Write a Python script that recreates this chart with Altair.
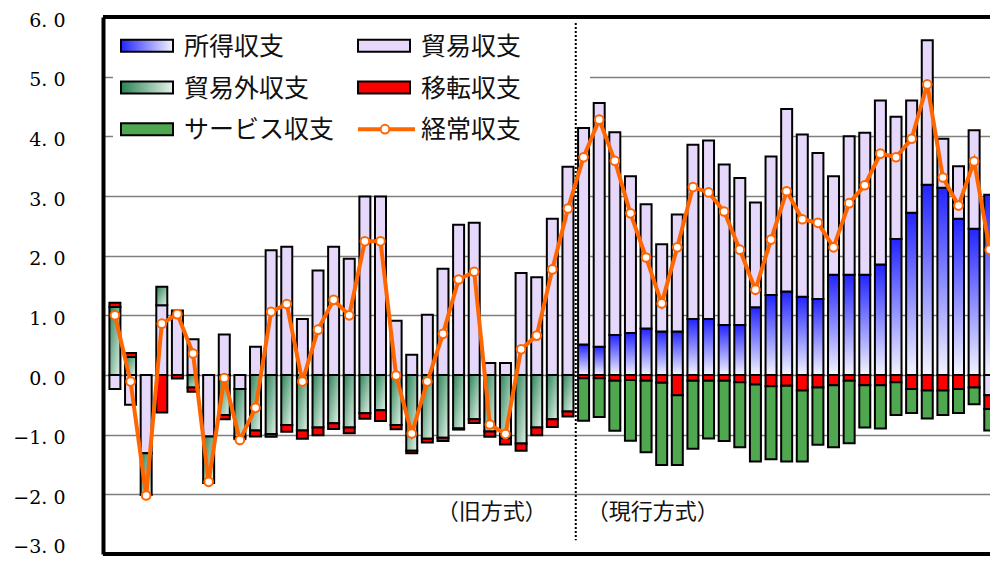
import altair as alt
import pandas as pd

# ---------------- data (values as % of GDP) ----------------
YEARS = list(range(1955, 2012))
OLD_YEARS = YEARS[:30]   # 1955-1984 (旧方式)
NEW_YEARS = YEARS[30:]   # 1985-2011 (現行方式)
SPLIT_YEAR = 1984.5

OLD_TRADE = [-0.235, -0.50, -1.31, 1.17, 1.08, 0.60, -1.03, 0.68, -0.235, 0.475,
             2.09, 2.15, 0.94, 1.75, 2.15, 1.95, 2.99, 2.99, 0.91, 0.34,
             1.01, 1.78, 2.52, 2.55, 0.20, 0.20, 1.71, 1.64, 2.62, 3.49]
OLD_NONTRADE = [1.14, 0.30, -0.70, 0.31, 0.0, -0.21, -0.78, -0.67, -0.81, -0.93,
                -0.99, -0.84, -0.93, -0.88, -0.81, -0.88, -0.64, -0.59, -0.84, -1.27,
                -1.07, -1.05, -0.895, -0.74, -0.945, -1.06, -1.15, -0.88, -0.74, -0.61]
OLD_TRANSFER = [0.07, 0.07, 0.0, -0.63, -0.06, -0.07, 0.0, -0.07, -0.03, -0.10,
                -0.045, -0.11, -0.14, -0.13, -0.095, -0.095, -0.095, -0.18, -0.07, -0.04,
                -0.06, -0.055, -0.02, -0.065, -0.09, -0.105, -0.12, -0.13, -0.13, -0.085]

NEW_INCOME = [0.51, 0.475, 0.67, 0.705, 0.78, 0.73, 0.73, 0.94, 0.94, 0.84,
              0.84, 1.135, 1.34, 1.40, 1.31, 1.275, 1.68, 1.68, 1.68, 1.85,
              2.28, 2.72, 3.19, 3.14, 2.62, 2.45, 3.02]
NEW_TRADE = [3.63, 4.085, 3.40, 2.625, 2.08, 1.46, 1.96, 2.92, 2.99, 2.69,
             2.46, 1.755, 2.32, 3.06, 2.72, 2.445, 1.65, 2.32, 2.38, 2.75,
             2.05, 1.88, 2.42, 0.82, 0.88, 1.65, -0.34]
NEW_TRANSFER = [-0.056, -0.056, -0.095, -0.084, -0.095, -0.13, -0.34, -0.095, -0.095, -0.095,
                -0.12, -0.16, -0.19, -0.18, -0.26, -0.21, -0.17, -0.095, -0.17, -0.17,
                -0.12, -0.235, -0.26, -0.26, -0.235, -0.21, -0.23]
NEW_SERVICES = [-0.71, -0.65, -0.84, -1.02, -1.20, -1.38, -1.17, -1.14, -0.97, -1.01,
                -1.09, -1.29, -1.22, -1.27, -1.19, -0.96, -1.04, -1.05, -0.71, -0.725,
                -0.55, -0.40, -0.47, -0.41, -0.40, -0.28, -0.36]

CURRENT = [1.0, -0.11, -2.02, 0.86, 1.02, 0.36, -1.79, -0.05, -1.09, -0.55,
           1.06, 1.19, -0.11, 0.76, 1.26, 1.0, 2.24, 2.24, -0.01, -0.98,
           -0.11, 0.69, 1.60, 1.73, -0.83, -0.99, 0.43, 0.66, 1.77, 2.79,
           3.65, 4.28, 3.59, 2.71, 1.97, 1.20, 2.14, 3.15, 3.06, 2.74,
           2.10, 1.43, 2.27, 3.08, 2.61, 2.55, 2.14, 2.88, 3.18, 3.71,
           3.65, 3.96, 4.87, 3.31, 2.84, 3.58, 2.10]

INCOME, TRADE, NONTRADE, TRANSFER, SERVICES, CA = (
    "所得収支", "貿易収支", "貿易外収支", "移転収支", "サービス収支", "経常収支")
STACK_ORDER = [INCOME, TRADE, NONTRADE, TRANSFER, SERVICES]
LEGEND_LABELS = [INCOME, NONTRADE, SERVICES, TRADE, TRANSFER, CA]
ANNOT_LABELS = ["（旧方式）", "（現行方式）"]
Y_TICKS = list(range(-3, 7))

# ---------------- tables ----------------
rows = []
for comp, yrs, vals in [
    (TRADE, OLD_YEARS, OLD_TRADE), (NONTRADE, OLD_YEARS, OLD_NONTRADE),
    (TRANSFER, OLD_YEARS, OLD_TRANSFER), (INCOME, NEW_YEARS, NEW_INCOME),
    (TRADE, NEW_YEARS, NEW_TRADE), (TRANSFER, NEW_YEARS, NEW_TRANSFER),
    (SERVICES, NEW_YEARS, NEW_SERVICES)]:
    for y, v in zip(yrs, vals):
        rows.append({"year": y, "comp": comp, "value": v, "ord": STACK_ORDER.index(comp)})
bars_df = pd.DataFrame(rows)
line_df = pd.DataFrame({"year": YEARS, "ca": CURRENT})
legend_df = pd.DataFrame({"label": LEGEND_LABELS})
annot_df = pd.DataFrame({"label": ANNOT_LABELS, "x": [SPLIT_YEAR, SPLIT_YEAR]})

# ---------------- scales / axis ----------------
XSCALE = alt.Scale(domain=[YEARS[0] - 0.443, YEARS[-1] - 0.304], nice=False, zero=False)
YSCALE = alt.Scale(domain=[Y_TICKS[0], Y_TICKS[-1]], nice=False, zero=False)
Y_AXIS = alt.Axis(
    values=Y_TICKS, title=None,
    labelExpr="replace(format(datum.value, '.1f'), '.', '. ')",
    labelFont="DejaVu Serif", labelFontSize=19, labelColor="#000000",
    labelPadding=38, ticks=False, domain=True, domainColor="#000000",
    labelOffset={"condition": {"test": f"datum.value == {Y_TICKS[0]}", "value": -8}, "value": 3},
    domainWidth=4, grid=True, gridColor="#7f7f7f", gridWidth=1.5)

JP_FONT = "Noto Sans CJK JP"
ORANGE = "#ff6600"

BLUE_GRAD = alt.LinearGradient(gradient="linear", x1=0, y1=0, x2=0, y2=1, stops=[
    alt.GradientStop(color="#2424ff", offset=0), alt.GradientStop(color="#f4f4ff", offset=1)])
GREEN_GRAD = alt.LinearGradient(gradient="linear", x1=0, y1=0, x2=1, y2=1, stops=[
    alt.GradientStop(color="#2c8257", offset=0), alt.GradientStop(color="#e4f3ea", offset=1)])
BLUE_GRAD_H = alt.LinearGradient(gradient="linear", x1=0, y1=0, x2=1, y2=0, stops=[
    alt.GradientStop(color="#2424ff", offset=0), alt.GradientStop(color="#f4f4ff", offset=1)])
GREEN_GRAD_H = alt.LinearGradient(gradient="linear", x1=0, y1=0, x2=1, y2=0, stops=[
    alt.GradientStop(color="#2c8257", offset=0), alt.GradientStop(color="#e4f3ea", offset=1)])
TRADE_FILL = "#e6d8fa"
TRANSFER_FILL = "#ff0000"
SERVICES_FILL = "#4fa84f"

FILLS = {INCOME: BLUE_GRAD, TRADE: TRADE_FILL, NONTRADE: GREEN_GRAD,
         TRANSFER: TRANSFER_FILL, SERVICES: SERVICES_FILL}
LEG_FILLS = {INCOME: BLUE_GRAD_H, TRADE: TRADE_FILL, NONTRADE: GREEN_GRAD_H,
             TRANSFER: TRANSFER_FILL, SERVICES: SERVICES_FILL}

X_ENC = alt.X("year:Q", scale=XSCALE, axis=None)

# ---------------- axis / grid layer ----------------
axis_layer = alt.Chart(line_df).mark_point(opacity=0).encode(
    x=X_ENC, y=alt.Y("ca:Q", scale=YSCALE, axis=Y_AXIS))

# legend background (covers gridlines behind legend)
legend_bg = alt.Chart(legend_df).transform_filter(
    alt.datum.label == LEGEND_LABELS[0]).mark_rect(fill="white").encode(
    x=alt.value(10), x2=alt.value(487), y=alt.value(3), y2=alt.value(143))

# ---------------- stacked bars ----------------
stack_base = alt.Chart(bars_df).transform_filter("datum.value != 0").transform_stack(
    stack="value", groupby=["year"], as_=["v0", "v1"],
    sort=[alt.SortField("ord", order="ascending")], offset="zero")

bar_layers = []
for comp in STACK_ORDER:
    bar_layers.append(
        stack_base.transform_filter(alt.datum.comp == comp).mark_bar(
            fill=FILLS[comp], stroke="black", strokeWidth=2, width=11, clip=True
        ).encode(
            x=X_ENC,
            y=alt.Y("v0:Q", scale=YSCALE, axis=Y_AXIS),
            y2="v1:Q",
        )
    )

# ---------------- divider, frame ----------------
divider = alt.Chart(annot_df).transform_filter(
    alt.datum.label == ANNOT_LABELS[0]).mark_rule(
    color="black", strokeWidth=2, strokeDash=[2, 2]).encode(
    x=alt.X("x:Q", scale=XSCALE, axis=None),
    y=alt.YDatum(5.9, scale=YSCALE, axis=Y_AXIS), y2=alt.datum(-2.77))

frame_top = alt.Chart(line_df).transform_filter(alt.datum.year == YEARS[0]).mark_rule(
    color="black", strokeWidth=4).encode(y=alt.YDatum(Y_TICKS[-1], scale=YSCALE, axis=Y_AXIS))
frame_bottom = alt.Chart(line_df).transform_filter(alt.datum.year == YEARS[0]).mark_rule(
    color="black", strokeWidth=4).encode(y=alt.YDatum(Y_TICKS[0], scale=YSCALE, axis=Y_AXIS))

# ---------------- current account line ----------------
ca_line = alt.Chart(line_df).mark_line(color=ORANGE, strokeWidth=4, clip=True).encode(
    x=X_ENC, y=alt.Y("ca:Q", scale=YSCALE, axis=Y_AXIS))
ca_pts = alt.Chart(line_df).mark_point(
    shape="circle", size=75, filled=True, fill="white", stroke=ORANGE,
    strokeWidth=2, opacity=1, clip=True).encode(
    x=X_ENC, y=alt.Y("ca:Q", scale=YSCALE, axis=Y_AXIS))

# ---------------- annotations ----------------
annot_old = alt.Chart(annot_df).transform_filter(alt.datum.label == ANNOT_LABELS[0]).mark_text(
    align="right", baseline="middle", dx=-29, font=JP_FONT, fontSize=22, color="#111111").encode(
    x=alt.X("x:Q", scale=XSCALE, axis=None),
    y=alt.YDatum(-2.3, scale=YSCALE, axis=Y_AXIS), text="label:N")
annot_new = alt.Chart(annot_df).transform_filter(alt.datum.label == ANNOT_LABELS[1]).mark_text(
    align="left", baseline="middle", dx=11, font=JP_FONT, fontSize=22, color="#111111").encode(
    x=alt.X("x:Q", scale=XSCALE, axis=None),
    y=alt.YDatum(-2.3, scale=YSCALE, axis=Y_AXIS), text="label:N")

# ---------------- manual legend ----------------
LEG_COL_X = [18, 255]
LEG_ROW_Y = [28.8, 70.5, 112.2]
SYM_W, SYM_H = 52, 12
legend_layers = []
for i, lab in enumerate(LEGEND_LABELS):
    col, row = divmod(i, 3)
    x0 = LEG_COL_X[col]
    cy = LEG_ROW_Y[row]
    one = alt.Chart(legend_df).transform_filter(alt.datum.label == lab)
    if lab == CA:
        legend_layers.append(one.mark_rule(color=ORANGE, strokeWidth=4).encode(
            x=alt.value(x0), x2=alt.value(x0 + SYM_W + 5), y=alt.value(cy)))
        legend_layers.append(one.mark_point(
            shape="circle", size=75, filled=True, fill="white", stroke=ORANGE,
            strokeWidth=2, opacity=1).encode(x=alt.value(x0 + 27), y=alt.value(cy)))
    else:
        legend_layers.append(one.mark_rect(
            fill=LEG_FILLS[lab], stroke="black", strokeWidth=2).encode(
            x=alt.value(x0), x2=alt.value(x0 + SYM_W),
            y=alt.value(cy - SYM_H / 2), y2=alt.value(cy + SYM_H / 2)))
    legend_layers.append(one.mark_text(
        align="left", baseline="middle", font=JP_FONT, fontSize=25, color="#111111").encode(
        x=alt.value(x0 + 63), y=alt.value(cy + 1), text="label:N"))

chart = alt.layer(
    axis_layer, legend_bg, *bar_layers, divider, frame_top, frame_bottom,
    ca_line, ca_pts, annot_old, annot_new, *legend_layers
).properties(
    width=887, height=537,
    autosize=alt.AutoSizeParams(type="none"),
    padding={"left": 95, "top": 9, "right": 0, "bottom": 2},
).configure_view(stroke=None).configure(background="white")

chart.save("out.html", embed_options={"renderer": "svg", "actions": False})
